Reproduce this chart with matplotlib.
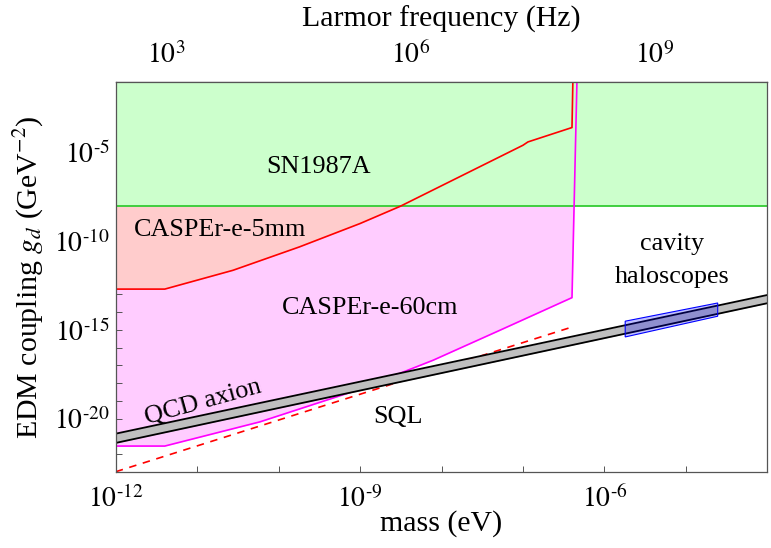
import numpy as np
import matplotlib
matplotlib.use('Agg')
import matplotlib.pyplot as plt
from matplotlib.ticker import FixedLocator, NullLocator, FixedFormatter

plt.rcParams['font.family'] = ['Liberation Serif', 'DejaVu Serif']
plt.rcParams['mathtext.fontset'] = 'stix'

# ---------------- data ----------------
# SN1987A bound (excluded above)
sn_bound = 1e-8

# CASPEr-e-5mm sensitivity curve
cas5_m = [1e-12, 4.0e-12, 2.75e-11, 1.8e-10, 1.0e-9, 3.1e-9, 1.0e-7, 1.15e-7, 4.0e-7, 4.1e-7]
cas5_g = [2.0e-13, 2.0e-13, 2.3e-12, 4.8e-11, 1.0e-9, 9.3e-9, 2.6e-5, 4.0e-5, 2.6e-4, 1e-1]

# CASPEr-e-60cm sensitivity curve
cas60_m = [1e-12, 4.0e-12, 5.9e-11, 9.1e-10, 7.9e-9, 5.2e-8, 4.0e-7, 4.6e-7]
cas60_g = [2.8e-22, 2.8e-22, 6.5e-21, 3.9e-19, 1.95e-17, 9.5e-16, 6.6e-14, 1e-1]

# QCD axion band
qcd_m = [1e-12, 1e-4]
qcd_lo = [4.2e-22, 3.2e-14]
qcd_hi = [1.4e-21, 9.3e-14]

# SQL line
sql_m = [1e-12, 4.0e-7]
sql_g = [1e-23, 1.45e-15]

# cavity haloscopes box (corners)
cav_m = [1.8e-6, 2.46e-5, 2.46e-5, 1.8e-6]
cav_g = [4.0e-16, 5.9e-15, 3.3e-14, 3.1e-15]

# ticks
x_ticks = [1e-12, 1e-11, 1e-10, 1e-9, 1e-8, 1e-7, 1e-6, 1e-5, 1e-4]
x_labels = [r'$10^{\text{-}12}$', '', '', r'$10^{\text{-}9}$', '', '', r'$10^{\text{-}6}$', '', '']
y_ticks = [10.0**k for k in range(-23, 0)]
y_label_map = {-20: r'$10^{\text{-}20}$', -15: r'$10^{\text{-}15}$',
               -10: r'$10^{\text{-}10}$', -5: r'$10^{\text{-}5}$'}
y_labels = [y_label_map.get(k, '') for k in range(-23, 0)]
f_ticks = [1e3, 1e4, 1e5, 1e6, 1e7, 1e8, 1e9, 1e10]
f_labels = [r'$10^{3}$', '', '', r'$10^{6}$', '', '', r'$10^{9}$', '']

h_ev_s = 4.135667e-15  # Planck constant, eV s

# ---------------- plot ----------------
fig = plt.figure(figsize=(7.71, 5.48), dpi=100)
ax = fig.add_axes([0.1501, 0.1392, 0.8451, 0.7117])
ax.set_xscale('log')
ax.set_yscale('log')
ax.set_xlim(1e-12, 1e-4)
ax.set_ylim(1e-23, 1e-1)
top = 1e-1

ax.fill_between(cas60_m, cas60_g, top, color='#FFCCFF', lw=0, zorder=1)
ax.fill_between(cas5_m, cas5_g, top, color='#FFCCCC', lw=0, zorder=2)
ax.axhspan(sn_bound, top, color='#CCFFCC', lw=0, zorder=3)
ax.axhline(sn_bound, color='#33CC33', lw=1.3, zorder=4)

ax.plot(cas5_m, cas5_g, color='#FF0000', lw=1.2, zorder=5)
ax.plot(cas60_m, cas60_g, color='#FF00FF', lw=1.2, zorder=5)
ax.plot(sql_m, sql_g, color='#FF0000', lw=1.2, ls=(0, (4.5, 4)), zorder=5)

ax.fill_between(qcd_m, qcd_lo, qcd_hi, color='#BFBFBF', lw=0, zorder=6)
ax.plot(qcd_m, qcd_lo, color='black', lw=1.3, zorder=6)
ax.plot(qcd_m, qcd_hi, color='black', lw=1.3, zorder=6)

ax.fill(cav_m, cav_g, facecolor=(0, 0, 1, 0.25), edgecolor='#0000FF', lw=0.8, zorder=7)

fs = 18.8
ax.text(3.05e-10, 1.5e-6, 'SN1987A', fontsize=fs, ha='center', va='center', zorder=8)
ax.text(1.9e-11, 4.2e-10, 'CASPEr-e-5mm', fontsize=fs, ha='center', va='center', zorder=8)
ax.text(1.32e-9, 1.66e-14, 'CASPEr-e-60cm', fontsize=fs, ha='center', va='center', zorder=8)
ax.text(1.19e-11, 8.5e-20, 'QCD axion', fontsize=fs, ha='center', va='center',
        rotation=15.5, rotation_mode='anchor', zorder=8)
ax.text(2.95e-9, 1.23e-20, 'SQL', fontsize=fs, ha='center', va='center', zorder=8)
ax.text(6.7e-6, 7.4e-11, 'cavity', fontsize=fs, ha='center', va='center', zorder=8)
ax.text(6.7e-6, 9.5e-13, 'haloscopes', fontsize=fs, ha='center', va='center', zorder=8)

spine_c = '#555555'
for s in ax.spines.values():
    s.set_color(spine_c)
    s.set_linewidth(0.9)
    s.set_zorder(10)

tfs = 20
ax.xaxis.set_major_locator(FixedLocator(x_ticks))
ax.xaxis.set_major_formatter(FixedFormatter(x_labels))
ax.xaxis.set_minor_locator(NullLocator())
ax.yaxis.set_major_locator(FixedLocator(y_ticks))
ax.yaxis.set_major_formatter(FixedFormatter(y_labels))
ax.yaxis.set_minor_locator(NullLocator())
ax.tick_params(axis='both', which='both', direction='in', length=4, width=0.7,
               color=spine_c, labelsize=tfs, top=False, right=False)
ax.tick_params(axis='x', pad=10)
ax.tick_params(axis='y', pad=4)

sec = ax.secondary_xaxis('top', functions=(lambda m: m / h_ev_s, lambda f: f * h_ev_s))
sec.xaxis.set_major_locator(FixedLocator(f_ticks))
sec.xaxis.set_major_formatter(FixedFormatter(f_labels))
sec.xaxis.set_minor_locator(NullLocator())
sec.tick_params(axis='x', which='both', direction='in', length=4, width=0.7,
                color=spine_c, labelsize=tfs, pad=9)
sec.spines['top'].set_color(spine_c)
sec.spines['top'].set_linewidth(0.9)

lfs = 21.5
ax.set_xlabel('mass (eV)', fontsize=lfs, va='center')
ax.xaxis.set_label_coords(0.5, -0.134)
ax.set_ylabel(r'EDM coupling $g_d$ (GeV$^{-2}$)', fontsize=lfs, va='center')
ax.yaxis.set_label_coords(-0.133, 0.5)
fig.text(0.5726, 0.9653, 'Larmor frequency (Hz)', fontsize=lfs, ha='center', va='center')

fig.savefig('out.png', dpi=100)
